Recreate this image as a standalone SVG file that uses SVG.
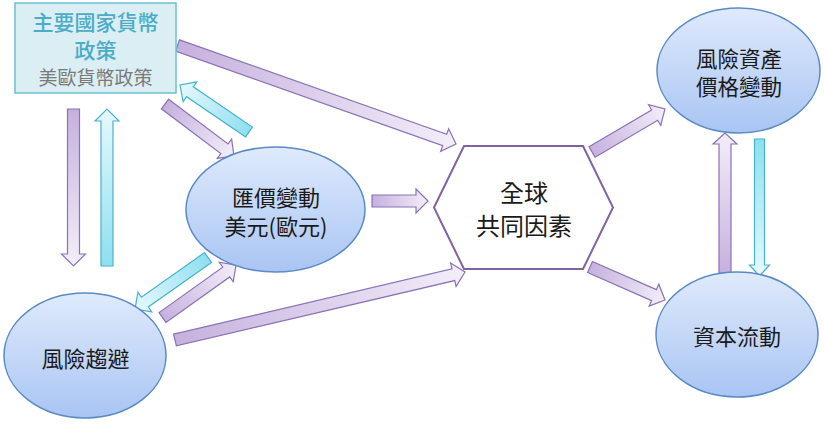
<svg xmlns="http://www.w3.org/2000/svg" width="824" height="425" viewBox="0 0 824 425">
<defs>
<linearGradient id="gP" x1="0" y1="0" x2="1" y2="0"><stop offset="0" stop-color="#c6b1de"/><stop offset="1" stop-color="#f3eef9"/></linearGradient>
<linearGradient id="gC" x1="0" y1="0" x2="1" y2="0"><stop offset="0" stop-color="#8edff0"/><stop offset="1" stop-color="#e6f9fd"/></linearGradient>
<linearGradient id="gE" x1="0" y1="0" x2="0" y2="1"><stop offset="0" stop-color="#dfeafc"/><stop offset="1" stop-color="#a9c5f3"/></linearGradient>
<style>
.p{fill:url(#gP);stroke:#8a72b5;stroke-width:1.2}
.c{fill:url(#gC);stroke:#48b3cb;stroke-width:1.2}
.el{fill:url(#gE);stroke:#5b8ac4;stroke-width:1.5}
.t{font-family:"Noto Sans CJK TC","Noto Sans CJK SC",sans-serif;fill:#1a1a1a;text-anchor:middle;dominant-baseline:central}
</style>
</defs>
<g id="connectors">
<path class="p" transform="translate(177.5,45.5) rotate(19.48)" d="M0,-6H283.4V-12L295.4,0L283.4,12V6H0Z"/>
<path class="p" transform="translate(165,104) rotate(37)" d="M0,-6H74.4V-12L86.4,0L74.4,12V6H0Z"/>
<path class="c" transform="translate(249,132) rotate(214.26)" d="M0,-6H71.5V-12L83.5,0L71.5,12V6H0Z"/>
<path class="p" transform="translate(372,201)" d="M0,-6H44V-12L56,0L44,12V6H0Z"/>
<path class="c" transform="translate(208,257.5) rotate(144.8)" d="M0,-6H77.3V-12L89.3,0L77.3,12V6H0Z"/>
<path class="p" transform="translate(162.5,317.5) rotate(-35.5)" d="M0,-6H78.3V-12L90.3,0L78.3,12V6H0Z"/>
<path class="p" transform="translate(175,340) rotate(-13.2)" d="M0,-6H285.9V-12L297.9,0L285.9,12V6H0Z"/>
<path class="p" transform="translate(592,152) rotate(-30.5)" d="M0,-6H72.7V-12L84.7,0L72.7,12V6H0Z"/>
<path class="p" transform="translate(590,267) rotate(23.75)" d="M0,-6H69.9V-12L81.9,0L69.9,12V6H0Z"/>
<path class="p" transform="translate(73.5,109) rotate(90)" d="M0,-6H145V-12L157,0L145,12V6H0Z"/>
<path class="c" transform="translate(107,266) rotate(-90)" d="M0,-6H145V-12L157,0L145,12V6H0Z"/>
<path class="p" transform="translate(725,273) rotate(-90)" d="M0,-6H129V-12L140,0L129,12V6H0Z"/>
<path class="c" transform="translate(759.5,139) rotate(90)" d="M0,-5H126V-10L137,0L126,10V5H0Z"/>
</g>
<g id="policy">
<rect x="15" y="3" width="161" height="90" fill="#daeef3" stroke="#6cc0d6" stroke-width="1.5"/>
<text class="t" x="95.5" y="21" font-size="21" font-weight="500" style="fill:#4bacc6">主要國家貨幣</text>
<text class="t" x="95.5" y="49" font-size="21" font-weight="500" style="fill:#4bacc6">政策</text>
<text class="t" x="95.5" y="76" font-size="19" style="fill:#7a7a7a">美歐貨幣政策</text>
</g>
<g id="fx">
<ellipse class="el" cx="275.5" cy="209.5" rx="89.5" ry="62.5"/>
<text class="t" x="276" y="196" font-size="22">匯價變動</text>
<text class="t" x="276" y="225" font-size="22">美元(歐元)</text>
</g>
<g id="riskaversion">
<ellipse class="el" cx="85" cy="355.5" rx="81" ry="62.5"/>
<text class="t" x="85.5" y="357" font-size="22">風險趨避</text>
</g>
<g id="global">
<polygon points="434,207.5 464,146 583,146 613,207.5 583,269 464,269" fill="#ffffff" stroke="#8064a2" stroke-width="2"/>
<text class="t" x="524" y="191" font-size="24">全球</text>
<text class="t" x="524" y="224" font-size="24">共同因素</text>
</g>
<g id="assetprice">
<ellipse class="el" cx="738.5" cy="70.5" rx="81.5" ry="62.5"/>
<text class="t" x="739" y="57" font-size="21.5">風險資產</text>
<text class="t" x="739" y="85" font-size="21.5">價格變動</text>
</g>
<g id="capitalflow">
<ellipse class="el" cx="737" cy="334.5" rx="81" ry="62.5"/>
<text class="t" x="737" y="335" font-size="22">資本流動</text>
</g>
</svg>
